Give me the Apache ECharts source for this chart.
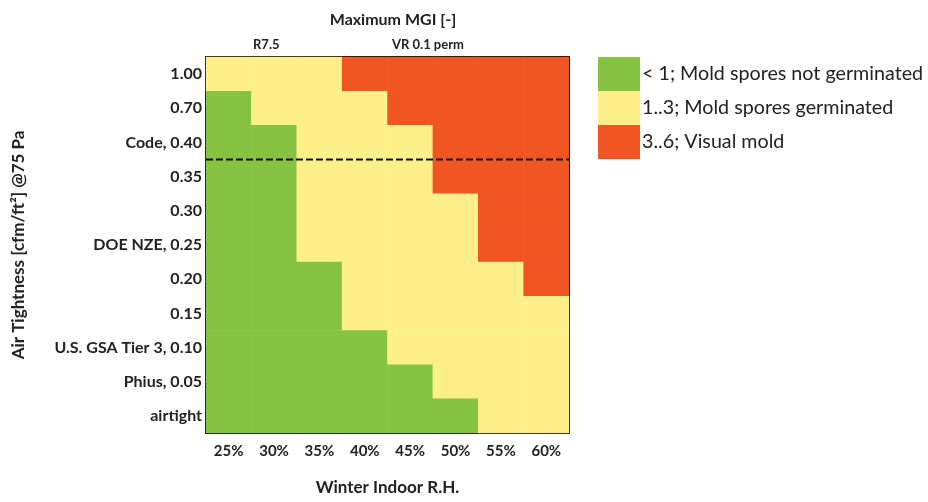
<!DOCTYPE html>
<html>
<head>
<meta charset="utf-8">
<script src="https://cdn.jsdelivr.net/npm/echarts@6/dist/echarts.min.js"></script>
<style>html,body{margin:0;padding:0;background:#fff;}#c{width:928px;height:502px;}</style>
</head>
<body>
<div id="c"></div>
<script>
const rhCategories = ['25%', '30%', '35%', '40%', '45%', '50%', '55%', '60%'];
const tightnessCategories = ['1.00', '0.70', 'Code, 0.40', '0.35', '0.30', 'DOE NZE, 0.25', '0.20', '0.15', 'U.S. GSA Tier 3, 0.10', 'Phius, 0.05', 'airtight'];
// Max MGI class per row (top to bottom), per RH column: 0.5 = <1, 2 = 1..3, 4.5 = 3..6
const row100 = [2, 2, 2, 4.5, 4.5, 4.5, 4.5, 4.5];
const row070 = [0.5, 2, 2, 2, 4.5, 4.5, 4.5, 4.5];
const row040 = [0.5, 0.5, 2, 2, 2, 4.5, 4.5, 4.5];
const row035 = [0.5, 0.5, 2, 2, 2, 4.5, 4.5, 4.5];
const row030 = [0.5, 0.5, 2, 2, 2, 2, 4.5, 4.5];
const row025 = [0.5, 0.5, 2, 2, 2, 2, 4.5, 4.5];
const row020 = [0.5, 0.5, 0.5, 2, 2, 2, 2, 4.5];
const row015 = [0.5, 0.5, 0.5, 2, 2, 2, 2, 2];
const row010 = [0.5, 0.5, 0.5, 0.5, 2, 2, 2, 2];
const row005 = [0.5, 0.5, 0.5, 0.5, 0.5, 2, 2, 2];
const rowAirtight = [0.5, 0.5, 0.5, 0.5, 0.5, 0.5, 2, 2];
const mgiRows = [row100, row070, row040, row035, row030, row025, row020, row015, row010, row005, rowAirtight];
const legendLabels = ['< 1; Mold spores not germinated', '1..3; Mold spores germinated', '3..6; Visual mold'];
const codeLineLevel = [3, 3];
const codeLineSpan = [0, 8];

const heatData = [];
mgiRows.forEach((row, yi) => row.forEach((v, xi) => heatData.push([xi, yi, v])));

const FONT = 'Lato, "Open Sans", sans-serif';
const chart = echarts.init(document.getElementById('c'), null, {renderer: 'canvas'});
chart.setOption({
  animation: false,
  backgroundColor: '#ffffff',
  textStyle: {fontFamily: FONT, color: '#222'},
  title: {
    text: 'Maximum MGI [-]',
    left: 388, top: 7, textAlign: 'center',
    textStyle: {fontFamily: FONT, fontSize: 16, fontWeight: 'bold', color: '#222'}
  },
  graphic: [
    {type: 'text', left: 253, top: 38, style: {text: 'R7.5', font: 'bold 13px ' + FONT, fill: '#222'}},
    {type: 'text', left: 392, top: 38, style: {text: 'VR 0.1 perm', font: 'bold 13px ' + FONT, fill: '#222'}}
  ],
  grid: {left: 206, right: 359, top: 57, bottom: 69, containLabel: false},
  xAxis: [{
    type: 'category', data: rhCategories, position: 'bottom',
    axisLine: {show: true, onZero: false, lineStyle: {color: '#000', width: 2}},
    axisTick: {show: false}, splitLine: {show: false},
    axisLabel: {fontFamily: FONT, fontSize: 15, fontWeight: 'bold', color: '#222', margin: 11},
    name: 'Winter Indoor R.H.', nameLocation: 'middle', nameGap: 46,
    nameTextStyle: {fontFamily: FONT, fontSize: 17, fontWeight: 'bold', color: '#222'}
  }, {
    type: 'value', min: 0, max: 8, position: 'top',
    axisLine: {show: true, onZero: false, lineStyle: {color: '#000', width: 2}},
    axisTick: {show: false}, axisLabel: {show: false}, splitLine: {show: false}
  }],
  yAxis: [{
    type: 'category', data: tightnessCategories, inverse: true, position: 'left',
    axisLine: {show: true, onZero: false, lineStyle: {color: '#000', width: 2}},
    axisTick: {show: false}, splitLine: {show: false},
    axisLabel: {fontFamily: FONT, fontSize: 16, fontWeight: 'bold', color: '#222', margin: 4},
    name: 'Air Tightness [cfm/ft²] @75 Pa', nameLocation: 'middle', nameGap: 179,
    nameTextStyle: {fontFamily: FONT, fontSize: 17, fontWeight: 'bold', color: '#222'}
  }, {
    type: 'value', min: 0, max: 11, inverse: true, position: 'right',
    axisLine: {show: true, onZero: false, lineStyle: {color: '#000', width: 2}},
    axisTick: {show: false}, axisLabel: {show: false}, splitLine: {show: false}
  }],
  visualMap: {
    type: 'piecewise', orient: 'vertical', left: 598, top: 57, padding: 0,
    inverse: true,
    itemWidth: 42, itemHeight: 34, itemGap: 0, itemSymbol: 'rect', textGap: 2,
    align: 'left',
    pieces: [
      {lt: 1, label: legendLabels[0], color: '#86c342'},
      {gte: 1, lt: 3, label: legendLabels[1], color: '#fdf08a'},
      {gte: 3, lte: 6, label: legendLabels[2], color: '#f15524'}
    ],
    textStyle: {fontFamily: FONT, fontSize: 19.7, color: '#222'},
    seriesIndex: 0
  },
  series: [{
    type: 'heatmap', xAxisIndex: 0, yAxisIndex: 0, data: heatData,
    itemStyle: {borderWidth: 0}, emphasis: {disabled: true}
  }, {
    type: 'line', xAxisIndex: 1, yAxisIndex: 1,
    data: codeLineSpan.map((x, i) => [x, codeLineLevel[i]]),
    symbol: 'none', silent: true, z: 5,
    lineStyle: {color: '#111', width: 2, type: [7, 3]}
  }]
});
</script>
</body>
</html>
